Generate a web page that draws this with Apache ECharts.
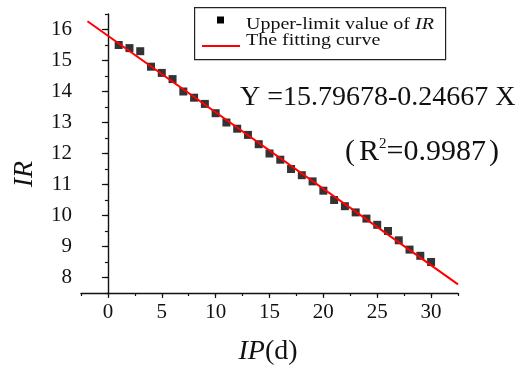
<!DOCTYPE html>
<html>
<head>
<meta charset="utf-8">
<script src="https://cdn.jsdelivr.net/npm/echarts@6/dist/echarts.min.js"></script>
<style>
  html, body { margin: 0; padding: 0; background: #fff; }
  #chart { width: 521px; height: 369px; }
</style>
</head>
<body>
<div id="chart"></div>
<script>
// Induction period (days) and the upper-limit IR value measured on each day
const days = [1, 2, 3, 4, 5, 6, 7, 8, 9, 10, 11, 12, 13, 14, 15,
              16, 17, 18, 19, 20, 21, 22, 23, 24, 25, 26, 27, 28, 29, 30];
const irUpper = [15.5, 15.4, 15.3, 14.8, 14.6, 14.4, 14.0, 13.8, 13.6, 13.3,
                 13.0, 12.8, 12.6, 12.3, 12.0, 11.8, 11.5, 11.3, 11.1, 10.8,
                 10.5, 10.3, 10.1, 9.9, 9.7, 9.5, 9.2, 8.9, 8.7, 8.5];

// Linear fit Y = a + b X, as printed on the chart
const fitIntercept = 15.79678;
const fitSlope = -0.24667;
const fitSpan = [-1.9, 32.5];
const rSquared = '0.9987';

// Tick labels
const xTickLabels = [0, 5, 10, 15, 20, 25, 30];
const yTickLabels = [8, 9, 10, 11, 12, 13, 14, 15, 16];

const serif = '"Liberation Serif", "Times New Roman", serif';
const ink = '#111';

const points = days.map((d, i) => [d, irUpper[i]]);
const fitLine = fitSpan.map(x => [x, fitIntercept + fitSlope * x]);

const chart = echarts.init(document.getElementById('chart'), null, { renderer: 'canvas' });

const baseX = {
  type: 'value', position: 'bottom', min: -2.5, max: 32.5, interval: 2.5,
  splitLine: { show: false }
};
const baseY = {
  type: 'value', position: 'left', min: 7.5, max: 16.5, interval: 0.5,
  splitLine: { show: false }
};

chart.setOption({
  backgroundColor: '#fff',
  animation: false,
  grid: { left: 81, right: 63, top: 14, bottom: 76 },
  xAxis: [
    Object.assign({}, baseX, {
      axisLine: { lineStyle: { color: ink, width: 1.4 } },
      axisTick: { length: 3, lineStyle: { color: ink, width: 1.2 } },
      axisLabel: {
        margin: 9, color: ink, fontFamily: serif, fontSize: 21,
        formatter: v => (xTickLabels.indexOf(v) >= 0 ? String(v) : '')
      }
    }),
    // longer ticks at the labelled values
    Object.assign({}, baseX, {
      axisLine: { show: false },
      axisTick: { length: 5, customValues: xTickLabels, lineStyle: { color: ink, width: 1.2 } },
      axisLabel: { show: false }
    })
  ],
  yAxis: [
    Object.assign({}, baseY, {
      axisLine: { lineStyle: { color: ink, width: 1.4 } },
      axisTick: { length: 3, lineStyle: { color: ink, width: 1.2 } },
      axisLabel: {
        margin: 9, color: ink, fontFamily: serif, fontSize: 21,
        formatter: v => (yTickLabels.indexOf(v) >= 0 ? String(v) : '')
      }
    }),
    Object.assign({}, baseY, {
      axisLine: { show: false },
      axisTick: { length: 6, customValues: yTickLabels, lineStyle: { color: ink, width: 1.2 } },
      axisLabel: { show: false }
    })
  ],
  series: [
    {
      name: 'Upper-limit value of IR',
      type: 'scatter',
      data: points,
      symbol: 'rect',
      symbolSize: 8,
      itemStyle: { color: '#000' },
      z: 2
    },
    {
      name: 'The fitting curve',
      type: 'line',
      data: fitLine,
      symbol: 'none',
      lineStyle: { color: '#ff0000', width: 2 },
      z: 3
    }
  ],
  graphic: [
    // legend frame
    {
      type: 'rect', left: 194, top: 7,
      shape: { width: 251, height: 52 },
      style: { fill: '#fff', stroke: '#222', lineWidth: 1.2 },
      z: 10
    },
    { type: 'rect', x: 217, y: 16.5, shape: { width: 7, height: 7 }, style: { fill: '#000' }, z: 11 },
    { type: 'line', shape: { x1: 202, y1: 46, x2: 240, y2: 46 }, style: { stroke: '#ff0000', lineWidth: 2 }, z: 11 },
    {
      type: 'text', x: 246, y: 25, scaleX: 1.25, z: 11,
      style: {
        text: '{n|Upper-limit value of }{i|IR}',
        verticalAlign: 'middle', fill: ink,
        rich: {
          n: { fontFamily: serif, fontSize: 16, fill: ink },
          i: { fontFamily: serif, fontSize: 16, fontStyle: 'italic', fill: ink }
        }
      }
    },
    {
      type: 'text', x: 246, y: 41, scaleX: 1.25, z: 11,
      style: { text: 'The fitting curve', font: '16px ' + serif, verticalAlign: 'middle', fill: ink }
    },
    // regression equation
    {
      type: 'text', x: 240, y: 98, z: 11,
      style: {
        text: 'Y =' + fitIntercept + fitSlope + ' X',
        font: '28px ' + serif, verticalAlign: 'middle', fill: ink
      }
    },
    {
      type: 'text', x: 345, y: 152, z: 11,
      style: {
        text: '{p|(}{n|R}{s|2}{n|=' + rSquared + '}{q|)}',
        verticalAlign: 'middle', fill: ink,
        rich: {
          p: { fontFamily: serif, fontSize: 30, fill: ink, padding: [0, 4, 0, 0] },
          q: { fontFamily: serif, fontSize: 30, fill: ink, padding: [0, 0, 0, 3] },
          n: { fontFamily: serif, fontSize: 30, fill: ink },
          s: { fontFamily: serif, fontSize: 15, fill: ink, verticalAlign: 'top', lineHeight: 30, padding: [0, 0, 12, 0] }
        }
      }
    },
    // axis titles
    {
      type: 'text', x: 25, y: 174, rotation: Math.PI / 2, z: 11,
      style: {
        text: 'IR', font: 'italic 28px ' + serif,
        align: 'center', verticalAlign: 'middle', fill: ink
      }
    },
    {
      type: 'text', x: 268, y: 352, z: 11,
      style: {
        text: '{i|IP}{n|(d)}',
        align: 'center', verticalAlign: 'middle', fill: ink,
        rich: {
          i: { fontFamily: serif, fontSize: 28, fontStyle: 'italic', fill: ink },
          n: { fontFamily: serif, fontSize: 28, fill: ink }
        }
      }
    }
  ]
});
</script>
</body>
</html>
